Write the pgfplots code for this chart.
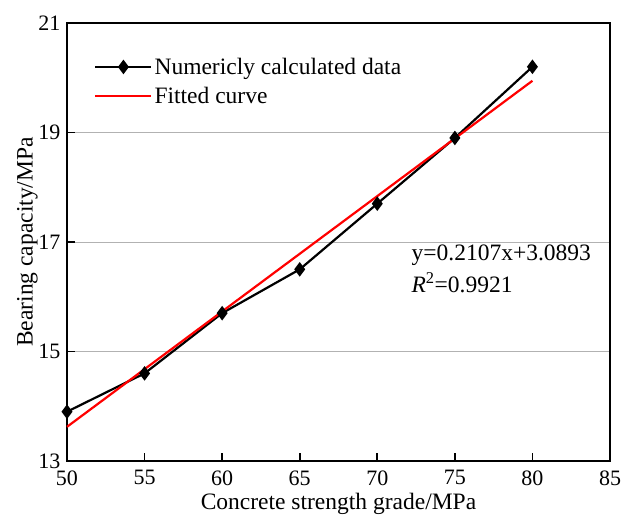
\documentclass[border=0pt]{standalone}
\usepackage{pgfplots}
\pgfplotsset{compat=1.18}
\usepackage{fontspec}
\setmainfont{Liberation Serif}
\begin{document}
\begin{tikzpicture}
\begin{axis}[
  scale only axis,
  width=543pt, height=438pt,
  xmin=50, xmax=85, ymin=13, ymax=21,
  xtick={50,55,...,85}, ytick={13,15,17,19,21},
  axis line style={line width=2pt},
  tick style={line width=1.8pt, black},
  major tick length=8pt,
  tick align=inside,
  xtick pos=bottom, ytick pos=left,
  ymajorgrids, grid style={gray!60, line width=0.7pt},
  /pgf/number format/assume math mode=true,
  ticklabel style={font=\fontsize{22}{26}\selectfont},
  xticklabel style={yshift=-6pt},
  yticklabel style={xshift=-3pt},
  xlabel={Concrete strength grade/MPa},
  ylabel={Bearing capacity/MPa},
  label style={font=\fontsize{23.5}{28}\selectfont},
  xlabel style={yshift=-1pt},
  ylabel style={yshift=-6pt},
  legend cell align=left,
  legend style={draw=none, fill=none, at={(0.05,0.925)}, anchor=north west,
    font=\fontsize{23.5}{28}\selectfont, row sep=7pt, inner sep=0pt},
  legend image code/.code={\draw[mark repeat=2,mark phase=2,#1] plot coordinates {(0pt,0pt) (28pt,0pt) (56pt,0pt)};},
  clip=false,
]
\addplot[black, line width=2.2pt, mark=diamond*, mark size=5.5pt] coordinates {
 (50,13.9) (55,14.6) (60,15.7) (65,16.5) (70,17.7) (75,18.9) (80,20.2)};
\addlegendentry{Numericly calculated data}
\addplot[red, line width=2.2pt, mark=none] coordinates {(50,13.624) (80,19.945)};
\addlegendentry{Fitted curve}
\node[anchor=west, inner sep=0pt, font=\fontsize{23.5}{28}\selectfont] at (axis cs:72.2,16.76) {y=0.2107x+3.0893};
\node[anchor=west, inner sep=0pt, font=\fontsize{23.5}{28}\selectfont] at (axis cs:72.2,16.25) {\textit{R}\textsuperscript{2}=0.9921};
\coordinate (sw) at (rel axis cs:0,0);
\coordinate (ne) at (rel axis cs:1,1);
\end{axis}
\pgfresetboundingbox
\path[use as bounding box] ([shift={(-67pt,-56pt)}]sw) rectangle ([shift={(12pt,23pt)}]ne);
\end{tikzpicture}
\end{document}
